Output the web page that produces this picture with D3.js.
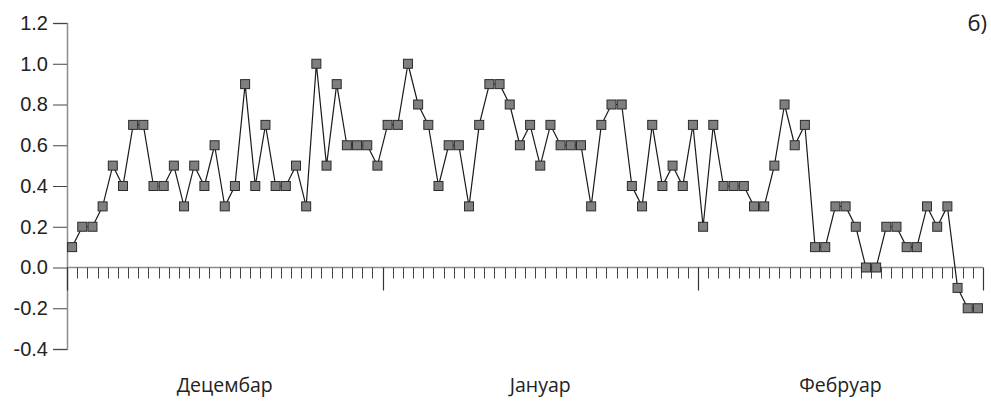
<!DOCTYPE html>
<html>
<head>
<meta charset="utf-8">
<script src="https://cdn.jsdelivr.net/npm/d3@7"></script>
<style>
  html, body { margin: 0; padding: 0; background: #fff; }
  svg { display: block; font-family: "Open Sans", "Noto Sans", sans-serif; }
</style>
</head>
<body>
<svg id="chart" width="991" height="401"></svg>
<script>
// Months shown on the x axis and their number of days
const months = ["Децембар", "Јануар", "Фебруар"];
const monthDays = [31, 31, 28];

// Daily values for each month
const decValues = [0.1, 0.2, 0.2, 0.3, 0.5, 0.4, 0.7, 0.7, 0.4, 0.4, 0.5, 0.3, 0.5, 0.4, 0.6, 0.3,
                   0.4, 0.9, 0.4, 0.7, 0.4, 0.4, 0.5, 0.3, 1.0, 0.5, 0.9, 0.6, 0.6, 0.6, 0.5];
const janValues = [0.7, 0.7, 1.0, 0.8, 0.7, 0.4, 0.6, 0.6, 0.3, 0.7, 0.9, 0.9, 0.8, 0.6, 0.7, 0.5,
                   0.7, 0.6, 0.6, 0.6, 0.3, 0.7, 0.8, 0.8, 0.4, 0.3, 0.7, 0.4, 0.5, 0.4, 0.7];
const febValues = [0.2, 0.7, 0.4, 0.4, 0.4, 0.3, 0.3, 0.5, 0.8, 0.6, 0.7, 0.1, 0.1, 0.3, 0.3, 0.2,
                   0.0, 0.0, 0.2, 0.2, 0.1, 0.1, 0.3, 0.2, 0.3, -0.1, -0.2, -0.2];

// Y axis tick values
const yTicks = [-0.4, -0.2, 0.0, 0.2, 0.4, 0.6, 0.8, 1.0, 1.2];

const panelLabel = "б)";

const allValues = decValues.concat(janValues, febValues);
const totalDays = d3.sum(monthDays);

const svg = d3.select("#chart");

const x = d3.scaleLinear().domain([0, totalDays]).range([67, 983]);
const y = d3.scaleLinear().domain([-0.4, 1.2]).range([349, 23]);

const axisColor = "#8c8c8c";
const textColor = "#222";

// Tick numbers use a plain hyphen for negatives
const fmt = d3.formatLocale({ decimal: ".", thousands: ",", grouping: [3], currency: ["", ""], minus: "-" }).format(".1f");

// Y axis
const yAxis = svg.append("g")
  .attr("transform", `translate(${x(0)},0)`)
  .call(d3.axisLeft(y).tickValues(yTicks).tickFormat(fmt).tickSize(14).tickPadding(5));
yAxis.select(".domain").attr("stroke", axisColor).attr("stroke-width", 1.5);
yAxis.selectAll(".tick line").attr("stroke", "#444").attr("stroke-width", 1);
yAxis.selectAll(".tick text")
  .attr("fill", textColor)
  .style("font-size", "20px");

// X axis along zero, with a tick for each day and longer ticks at month boundaries
const monthStarts = [0];
monthDays.forEach(d => monthStarts.push(monthStarts[monthStarts.length - 1] + d));

const xAxisG = svg.append("g");
xAxisG.append("line")
  .attr("x1", x(0)).attr("x2", x(totalDays))
  .attr("y1", y(0)).attr("y2", y(0))
  .attr("stroke", axisColor).attr("stroke-width", 1.5);

const dayTicks = d3.range(1, totalDays).filter(d => !monthStarts.includes(d));
xAxisG.selectAll("line.minor")
  .data(dayTicks)
  .join("line")
  .attr("class", "minor")
  .attr("x1", d => Math.round(x(d)) + 0.5).attr("x2", d => Math.round(x(d)) + 0.5)
  .attr("y1", y(0)).attr("y2", y(0) + 11)
  .attr("stroke", "#444").attr("stroke-width", 1);

xAxisG.selectAll("line.major")
  .data(monthStarts)
  .join("line")
  .attr("class", "major")
  .attr("x1", d => Math.round(x(d)) + 0.5).attr("x2", d => Math.round(x(d)) + 0.5)
  .attr("y1", y(0)).attr("y2", y(0) + 23)
  .attr("stroke", "#333").attr("stroke-width", 1.2);

// Month labels centred under each month
xAxisG.selectAll("text.month")
  .data(months)
  .join("text")
  .attr("class", "month")
  .attr("x", (m, i) => x((monthStarts[i] + monthStarts[i + 1]) / 2))
  .attr("y", 392)
  .attr("text-anchor", "middle")
  .attr("fill", textColor)
  .style("font-size", "19.5px")
  .text(d => d);

// Series line
const pts = allValues.map((v, i) => ({ day: i + 0.5, v }));
svg.append("path")
  .datum(pts)
  .attr("fill", "none")
  .attr("stroke", "#1a1a1a")
  .attr("stroke-width", 1.2)
  .attr("d", d3.line().x(d => x(d.day)).y(d => y(d.v)));

// Square markers
const ms = 9;
svg.selectAll("rect.pt")
  .data(pts)
  .join("rect")
  .attr("class", "pt")
  .attr("x", d => x(d.day) - ms / 2)
  .attr("y", d => y(d.v) - ms / 2)
  .attr("width", ms).attr("height", ms)
  .attr("fill", "#7f7f7f")
  .attr("stroke", "#2b2b2b")
  .attr("stroke-width", 1);

// Panel label
svg.append("text")
  .attr("x", 987)
  .attr("y", 31)
  .attr("text-anchor", "end")
  .attr("fill", textColor)
  .style("font-size", "22px")
  .text(panelLabel);
</script>
</body>
</html>
